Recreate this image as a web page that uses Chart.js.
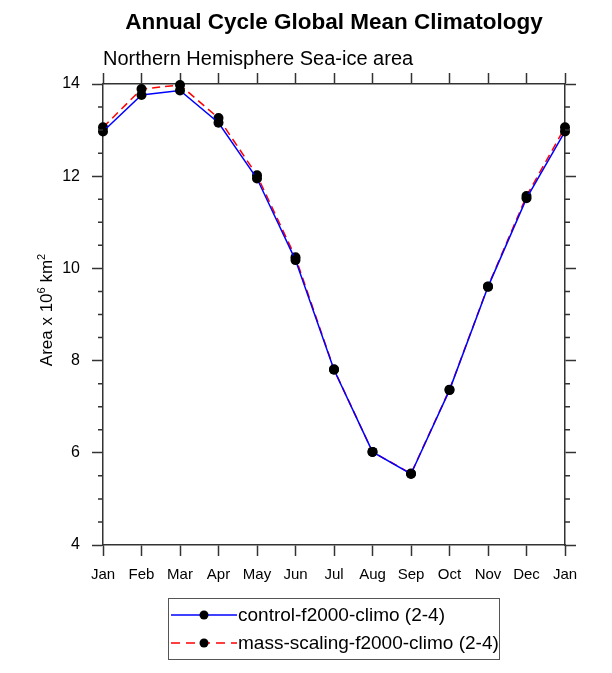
<!DOCTYPE html>
<html>
<head>
<meta charset="utf-8">
<script src="https://cdn.jsdelivr.net/npm/chart.js@4"></script>
<style>
  html, body { margin: 0; padding: 0; background: #fff; }
  #wrap { width: 612px; height: 673px; position: relative; }
</style>
</head>
<body>
<div id="wrap"><canvas id="iceChart"></canvas></div>
<script>
  const months = ['Jan', 'Feb', 'Mar', 'Apr', 'May', 'Jun', 'Jul', 'Aug', 'Sep', 'Oct', 'Nov', 'Dec', 'Jan'];
  const controlArea = [12.97, 13.76, 13.86, 13.16, 11.95, 10.18, 7.80, 6.02, 5.54, 7.36, 9.60, 11.52, 12.97];
  const massScalingArea = [13.06, 13.89, 13.98, 13.26, 12.02, 10.24, 7.81, 6.02, 5.55, 7.37, 9.61, 11.57, 13.06];
  const yTicks = [4, 6, 8, 10, 12, 14];
  const seriesNames = ['control-f2000-climo (2-4)', 'mass-scaling-f2000-climo (2-4)'];

  const FONT = '"Liberation Sans", Arial, Helvetica, sans-serif';
  const AXIS = '#333';

  // titles, axis label, minor ticks and the boxed legend
  const decorations = {
    id: 'decorations',
    afterDraw(chart) {
      const c = chart.ctx;
      const area = chart.chartArea;
      const ys = chart.scales.y;
      c.save();
      c.fillStyle = '#000';

      c.font = 'bold 22.5px ' + FONT;
      c.textAlign = 'center';
      c.textBaseline = 'alphabetic';
      c.fillText('Annual Cycle Global Mean Climatology', (area.left + area.right) / 2, 29);

      c.font = '20px ' + FONT;
      c.textAlign = 'left';
      c.fillText('Northern Hemisphere Sea-ice area', area.left, 65);

      // y axis title with superscripts
      c.save();
      c.translate(52, 310);
      c.rotate(-Math.PI / 2);
      const parts = [['Area x 10', 17, 0], ['6', 11, -7], [' km', 17, 0], ['2', 11, -7]];
      let total = 0;
      parts.forEach(p => { c.font = p[1] + 'px ' + FONT; total += c.measureText(p[0]).width; });
      let x = -total / 2;
      parts.forEach(p => {
        c.font = p[1] + 'px ' + FONT;
        c.fillText(p[0], x, p[2]);
        x += c.measureText(p[0]).width;
      });
      c.restore();

      // minor ticks every 0.5 on left and right
      c.strokeStyle = AXIS;
      c.lineWidth = 1.5;
      c.beginPath();
      for (let v = ys.min; v <= ys.max; v += 0.5) {
        if (v % 2 === 0) continue;
        const py = ys.getPixelForValue(v);
        c.moveTo(area.left - 5, py); c.lineTo(area.left, py);
        c.moveTo(area.right, py); c.lineTo(area.right + 5, py);
      }
      c.stroke();

      // legend
      const bx = 168, by = 598, bw = 331, bh = 61;
      c.strokeStyle = '#555';
      c.lineWidth = 1;
      c.strokeRect(bx + 0.5, by + 0.5, bw, bh);
      const rows = [
        { y: 615, color: '#0000ff', dash: [] },
        { y: 643, color: '#ff0000', dash: [9, 6] }
      ];
      rows.forEach((r, i) => {
        c.strokeStyle = r.color;
        c.lineWidth = 1.5;
        c.setLineDash(r.dash);
        c.beginPath();
        c.moveTo(171, r.y); c.lineTo(237, r.y);
        c.stroke();
        c.setLineDash([]);
        c.fillStyle = '#000';
        c.beginPath();
        c.arc(204, r.y, 4.5, 0, Math.PI * 2);
        c.fill();
        c.font = '19px ' + FONT;
        c.textAlign = 'left';
        c.textBaseline = 'alphabetic';
        c.fillText(seriesNames[i], 238, r.y + 6);
      });
      c.restore();
    }
  };

  const tickGrid = { drawOnChartArea: false, drawTicks: true, tickLength: 11, tickColor: AXIS, tickWidth: 1.5 };
  const axisBorder = { display: true, color: AXIS, width: 1.5 };

  const ctx = document.getElementById('iceChart').getContext('2d');
  new Chart(ctx, {
    type: 'line',
    data: {
      labels: months,
      datasets: [{
        label: seriesNames[0],
        data: controlArea,
        borderColor: '#0000ff',
        borderWidth: 1.5,
        pointRadius: 5,
        pointBackgroundColor: '#000',
        pointBorderWidth: 0,
        tension: 0,
        clip: false
      }, {
        label: seriesNames[1],
        data: massScalingArea,
        borderColor: '#ff0000',
        borderWidth: 1.5,
        borderDash: [8, 5],
        pointRadius: 5,
        pointBackgroundColor: '#000',
        pointBorderWidth: 0,
        tension: 0,
        clip: false
      }]
    },
    options: {
      responsive: true,
      maintainAspectRatio: false,
      animation: false,
      layout: { padding: 0 },
      plugins: { legend: { display: false }, tooltip: { enabled: false }, title: { display: false } },
      scales: {
        x: {
          type: 'category', position: 'bottom', offset: false,
          ticks: { color: '#000', font: { size: 15, family: FONT }, padding: 10, maxRotation: 0, autoSkip: false },
          grid: tickGrid, border: axisBorder,
          afterFit: s => { s.height = 128; }
        },
        x2: {
          type: 'category', position: 'top', offset: false, labels: months,
          ticks: { display: false, autoSkip: false },
          grid: tickGrid, border: axisBorder,
          afterFit: s => { s.height = 84; }
        },
        y: {
          position: 'left', min: 4, max: 14,
          afterBuildTicks: s => { s.ticks = yTicks.map(v => ({ value: v })); },
          ticks: { color: '#000', font: { size: 16, family: FONT }, padding: 12 },
          grid: tickGrid, border: axisBorder,
          afterFit: s => { s.width = 103; }
        },
        y2: {
          position: 'right', min: 4, max: 14,
          afterBuildTicks: s => { s.ticks = yTicks.map(v => ({ value: v })); },
          ticks: { display: false },
          grid: tickGrid, border: axisBorder,
          afterFit: s => { s.width = 47; }
        }
      }
    },
    plugins: [decorations]
  });
</script>
</body>
</html>
